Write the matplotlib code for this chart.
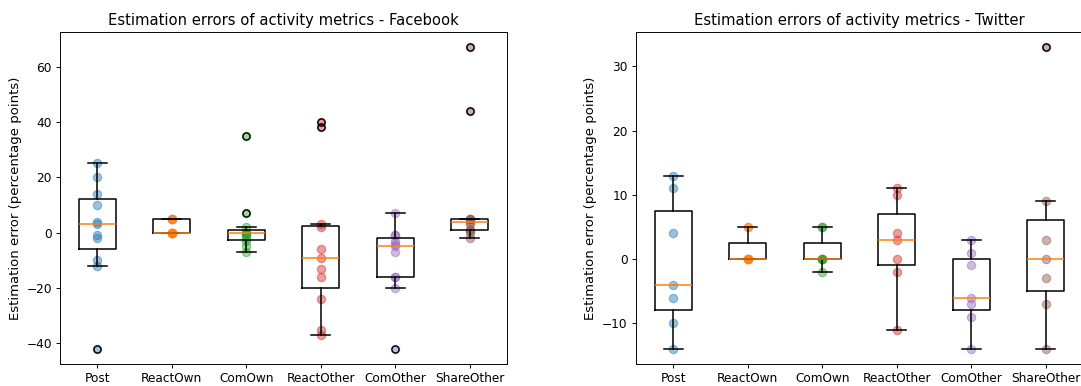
import numpy as np
import matplotlib.pyplot as plt

# -----------------------------
# DATA (estimation errors, percentage points)
# -----------------------------
metrics = ["Post", "ReactOwn", "ComOwn", "ReactOther", "ComOther", "ShareOther"]

fb_post = [25, 20, 14, 10, 4, 3, -1, -2, -10, -12, -42]
fb_react_own = [5, 5, 5, 5, 0, 0, 0, 0, 0, 0, 0]
fb_com_own = [35, 7, 2, 0, 0, 0, -1, -2, -3, -5, -7]
fb_react_other = [40, 38, 3, 2, -6, -9, -13, -16, -24, -35, -37]
fb_com_other = [7, -1, -1, -3, -4, -5, -7, -16, -16, -20, -42]
fb_share_other = [67, 44, 5, 5, 5, 4, 3, 1, 1, 0, -2]

tw_post = [13, 11, 4, -4, -6, -10, -14]
tw_react_own = [5, 5, 0, 0, 0, 0, 0]
tw_com_own = [5, 5, 0, 0, 0, 0, -2]
tw_react_other = [11, 10, 4, 3, 0, -2, -11]
tw_com_other = [3, 1, -1, -6, -7, -9, -14]
tw_share_other = [33, 9, 3, 0, -3, -7, -14]

facebook = [fb_post, fb_react_own, fb_com_own, fb_react_other, fb_com_other, fb_share_other]
twitter = [tw_post, tw_react_own, tw_com_own, tw_react_other, tw_com_other, tw_share_other]

# -----------------------------
# PLOT
# -----------------------------
DPI = 85
fig = plt.figure(figsize=(1081 / DPI, 386 / DPI), dpi=DPI)
ax1 = fig.add_axes([0.0555, 0.057, 0.4135, 0.860])
ax2 = fig.add_axes([0.5883, 0.057, 0.4135, 0.860])


def draw(ax, groups, title):
    pos = np.arange(1, len(groups) + 1)
    lw = 1.3
    ax.boxplot(groups, positions=pos,
               boxprops=dict(linewidth=lw), whiskerprops=dict(linewidth=lw),
               capprops=dict(linewidth=lw), medianprops=dict(linewidth=lw),
               flierprops=dict(markeredgewidth=1.2, markersize=6))
    for i, vals in enumerate(groups):
        ax.scatter(np.full(len(vals), pos[i]), vals, color="C%d" % i,
                   alpha=0.45, s=50)
    ax.set_xticks(pos)
    ax.set_xticklabels(metrics)
    ax.tick_params(labelsize=10.3)
    ax.set_ylabel("Estimation error (percentage points)", fontsize=11.2)
    ax.set_title(title, fontsize=12.5)


draw(ax1, facebook, "Estimation errors of activity metrics - Facebook")
draw(ax2, twitter, "Estimation errors of activity metrics - Twitter")

plt.savefig("out.png", dpi=DPI)
